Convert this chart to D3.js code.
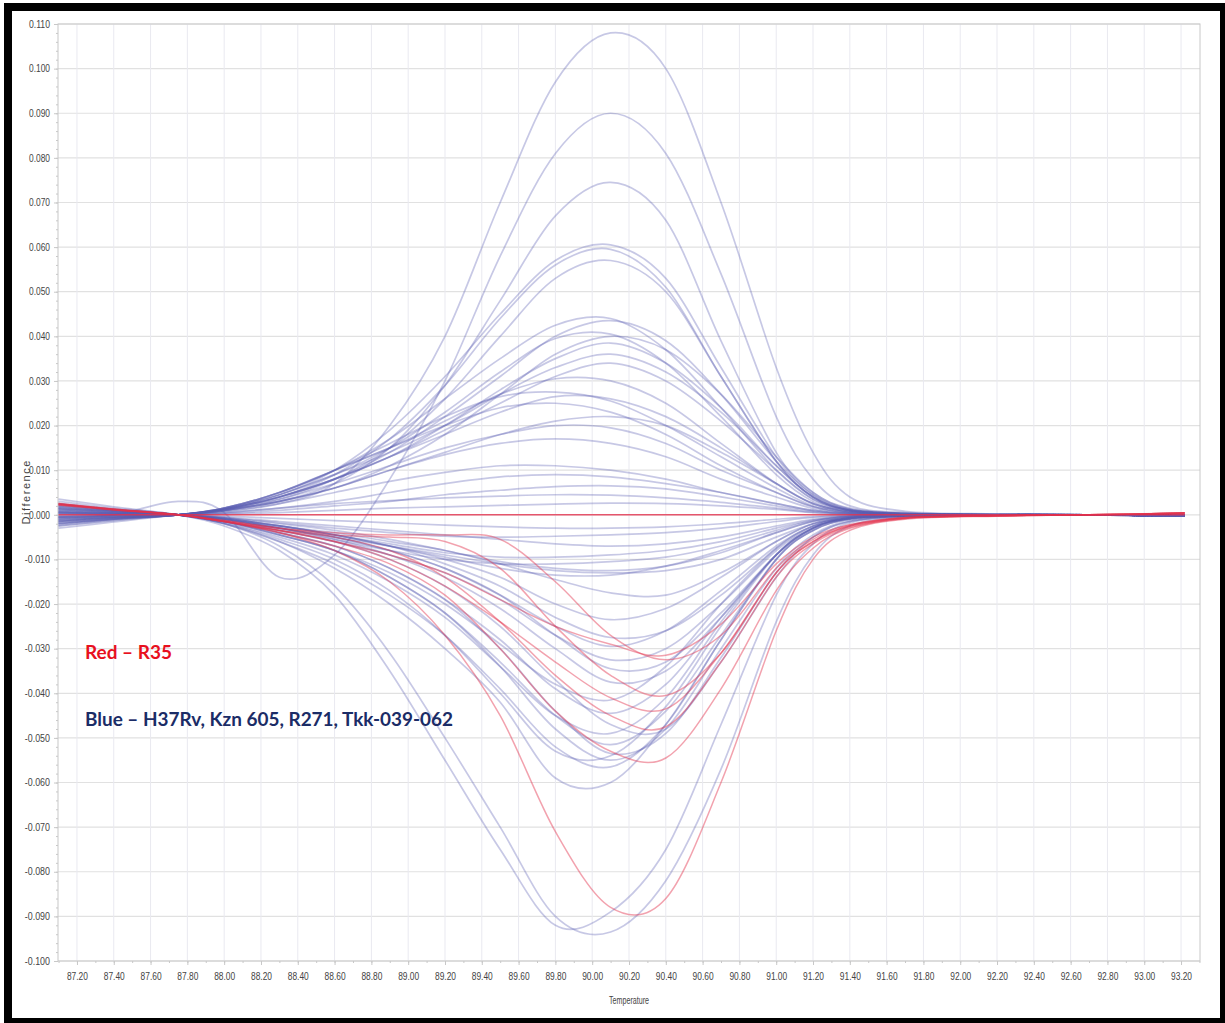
<!DOCTYPE html>
<html>
<head>
<meta charset="utf-8">
<script src="https://cdn.jsdelivr.net/npm/d3@7"></script>
<style>
body { margin: 0; background: #fff; }
</style>
</head>
<body>
<div id="chart-area"></div>
<script>
// temperature grid the curves were read on (deg C)
const temps = [87.10, 87.40, 87.75, 88.00, 88.30, 88.60, 88.90, 89.20, 89.50, 89.80,
               90.10, 90.40, 90.70, 91.00, 91.20, 91.40, 91.70, 92.20, 92.70, 93.22];

// difference values, in thousandths
const bluePositive = [
  [-3.0, -1.6, 0, 0.8, 2.5, 7, 20, 40, 70, 97, 108, 100, 70, 33, 14, 4, 0.8, 0.2, 0, -0.3],
  [-0.5, 0, 3.0, 0.5, -14, -9, 8, 30, 58, 81, 90, 81, 54, 22, 8, 2, 0.5, 0.1, 0, -0.3],
  [-2.5, -1.3, 0, 1, 3, 7, 15, 29, 48, 67, 74.5, 66, 39, 14, 5, 1.5, 0.3, 0.1, 0, -0.3],
  [-2.5, -1.2, 0, 1.5, 4.5, 10, 19, 31, 45, 57, 60.5, 53, 33, 13, 4.5, 1.2, 0.3, 0.1, 0, -0.3],
  [-2.2, -1.0, 0, 1.3, 4, 9, 17, 29, 44, 56, 59.5, 51, 31, 12, 4, 1, 0.3, 0.1, 0, -0.3],
  [-2.0, -1.0, 0, 1.2, 3.5, 8, 15, 26, 40, 53, 57, 50, 31, 12, 4, 1, 0.2, 0.1, 0, -0.3],
  [-2.0, -1.0, 0, 1.5, 5, 10, 17, 26, 35, 42.5, 44, 37, 24, 10, 3.5, 1, 0.2, 0, 0, -0.3],
  [-1.8, -0.9, 0, 1.2, 4, 8, 14, 22, 31, 40, 43.5, 39, 27, 12, 4.5, 1.2, 0.3, 0, 0, -0.3],
  [-1.8, -0.9, 0, 1.4, 4.5, 9, 15, 23, 32, 39.5, 40.5, 34, 22, 9, 3, 0.8, 0.2, 0, 0, -0.2],
  [-1.5, -0.8, 0, 1, 3, 6, 11, 18, 27, 36, 40, 37, 27, 13, 5, 1.3, 0.3, 0, 0, -0.2],
  [-1.5, -0.7, 0, 1.2, 4, 8, 13, 20, 28, 35, 38.5, 34, 24, 11, 4, 1, 0.2, 0, 0, -0.2],
  [-1.5, -0.7, 0, 1.3, 4.5, 9, 14, 20, 27, 33, 36, 32, 23, 11, 4, 1, 0.2, 0, 0, -0.2],
  [-1.3, -0.6, 0, 1.2, 4, 8, 13, 19, 25, 31, 34, 30, 21, 10, 3.5, 1, 0.2, 0, 0, -0.2],
  [-1.3, -0.6, 0, 1.5, 5, 10, 15, 21, 27, 30.5, 30, 25, 16, 7, 2.5, 0.7, 0.2, 0, 0, -0.2],
  [-1.2, -0.6, 0, 1.5, 5, 10, 16, 22, 26.5, 27.5, 25.5, 20, 13, 6, 2, 0.6, 0.1, 0, 0, -0.2],
  [-1.0, -0.5, 0, 1.2, 4, 8, 13, 18, 23, 26.5, 26, 22, 15, 7, 2.5, 0.7, 0.1, 0, 0, -0.2],
  [-1.0, -0.5, 0, 1.5, 5, 10, 15, 20, 24, 25, 23, 18, 11, 5, 1.8, 0.5, 0.1, 0, 0, -0.2],
  [-0.8, -0.4, 0, 1, 3, 6, 10, 14, 18, 21, 22, 20, 14, 7, 2.5, 0.7, 0.1, 0, 0, -0.1],
  [-0.8, -0.4, 0, 1, 3.5, 7, 11, 15, 18, 20, 19.5, 16, 10, 5, 1.8, 0.5, 0.1, 0, 0, -0.1],
  [-0.7, -0.3, 0, 1, 3, 6, 10, 13.5, 16, 17, 16, 13, 8, 4, 1.4, 0.4, 0.1, 0, 0, -0.1],
  [-0.5, -0.2, 0, 0.8, 2.5, 5, 7.5, 9.5, 11, 11, 10, 8, 5, 2.5, 1, 0.3, 0.1, 0, 0, -0.1],
  [-0.5, -0.2, 0, 0.5, 1.5, 3, 5, 7, 8.5, 9, 8.5, 7, 5, 2.5, 1, 0.3, 0.1, 0, 0, -0.1],
  [-0.4, -0.2, 0, 0.3, 1, 2, 3, 4.5, 5.5, 6.3, 6.5, 5.8, 4, 2, 0.8, 0.2, 0, 0, 0, -0.1],
  [-0.3, -0.1, 0, 0.5, 1.5, 2.5, 3.2, 3.8, 4.2, 4.5, 4.4, 3.8, 2.8, 1.5, 0.6, 0.2, 0, 0, 0, -0.1],
  [-0.2, -0.1, 0, 0.2, 0.5, 1, 1.5, 1.8, 2.1, 2.4, 2.6, 2.5, 2, 1.2, 0.5, 0.1, 0, 0, 0, -0.1]
];

const blueNegative = [
  [3.5, 1.8, 0, -2, -7, -16, -31, -50, -70, -90, -93.5, -82, -57, -24, -9, -2.5, -0.5, -0.1, 0, -0.3],
  [3.0, 1.5, 0, -2.5, -8, -18, -35, -55, -75, -92, -89, -75, -47, -18, -6.5, -1.8, -0.4, -0.1, 0, -0.3],
  [2.5, 1.2, 0, -2, -6, -12, -20, -30, -42, -59, -60, -47, -28, -10, -3.5, -1, -0.3, 0, 0, -0.3],
  [2.5, 1.2, 0, -2, -6, -11, -18, -27, -39, -52, -56.5, -47, -28, -10, -3.5, -1, -0.3, 0, 0, -0.3],
  [2.2, 1.1, 0, -1.8, -5.5, -10, -17, -27, -40, -53, -54, -43, -25, -9, -3, -0.8, -0.2, 0, 0, -0.3],
  [2.0, 1.0, 0, -1.5, -4.5, -8, -14, -22, -34, -48, -55, -48, -30, -12, -4.5, -1.3, -0.3, 0, 0, -0.3],
  [2.0, 1.0, 0, -1.5, -4, -7, -12, -19, -30, -44, -53.5, -49, -32, -13, -5, -1.5, -0.3, 0, 0, -0.3],
  [1.8, 0.9, 0, -1.5, -4.5, -8, -14, -22, -33, -45, -51.5, -44, -27, -10, -3.5, -1, -0.2, 0, 0, -0.3],
  [1.8, 0.9, 0, -1.8, -5, -9, -15, -23, -34, -45, -49, -41, -24, -9, -3, -0.8, -0.2, 0, 0, -0.3],
  [1.5, 0.8, 0, -1.2, -3.5, -6, -10, -16, -25, -37, -47, -48, -33, -14, -5, -1.5, -0.3, 0, 0, -0.3],
  [1.5, 0.8, 0, -1.5, -4, -7, -12, -19, -28, -39, -44.5, -38, -23, -9, -3, -0.8, -0.2, 0, 0, -0.3],
  [1.5, 0.8, 0, -1.5, -4.5, -8, -13, -20, -29, -38, -41.5, -34, -20, -7.5, -2.5, -0.7, -0.2, 0, 0, -0.3],
  [1.3, 0.7, 0, -1, -3, -5.5, -9, -14, -21, -30, -37.5, -35, -23, -9, -3, -0.8, -0.2, 0, 0, -0.3],
  [1.2, 0.6, 0, -1, -3, -5, -8, -12, -18, -27, -34.5, -33, -22, -9, -3, -0.8, -0.2, 0, 0, -0.3],
  [1.2, 0.6, 0, -1.2, -3.5, -6, -9, -13, -19, -27, -32.5, -30, -20, -8, -2.8, -0.8, -0.2, 0, 0, -0.3],
  [1.0, 0.5, 0, -1, -3, -5, -8, -12, -18, -25, -29.5, -26, -17, -7, -2.5, -0.7, -0.2, 0, 0, -0.2],
  [1.0, 0.5, 0, -1, -2.5, -4.5, -7, -11, -16, -23, -27.5, -26, -18, -7.5, -2.5, -0.7, -0.2, 0, 0, -0.2],
  [0.8, 0.4, 0, -0.8, -2.5, -4.5, -7, -10, -14, -20, -23.5, -21, -14, -6, -2, -0.6, -0.1, 0, 0, -0.2],
  [0.8, 0.4, 0, -0.8, -2.5, -4, -6, -8, -11, -14.5, -17.5, -18, -13, -6, -2, -0.6, -0.1, 0, 0, -0.2],
  [0.6, 0.3, 0, -0.8, -2.5, -4.5, -7, -9.5, -12, -13.5, -13.5, -11.5, -8, -4, -1.5, -0.4, -0.1, 0, 0, -0.2],
  [0.6, 0.3, 0, -1, -3, -5, -7, -9, -11, -12.5, -13, -12.5, -10, -5, -2, -0.5, -0.1, 0, 0, -0.2],
  [0.5, 0.3, 0, -0.7, -2, -3.5, -5.5, -8, -10.5, -12, -12.5, -11.5, -8.5, -4, -1.5, -0.4, -0.1, 0, 0, -0.2],
  [0.5, 0.2, 0, -1, -3, -5.5, -8, -10, -11, -11, -10.5, -9.5, -7, -3.5, -1.3, -0.4, -0.1, 0, 0, -0.2],
  [0.5, 0.2, 0, -0.8, -2.5, -4.5, -6.5, -8.5, -9.5, -9.5, -9, -8, -6, -3, -1.2, -0.3, -0.1, 0, 0, -0.2],
  [0.3, 0.2, 0, -0.5, -1.5, -2.5, -3.5, -4.5, -5.5, -6.5, -7, -6.5, -5, -2.5, -1, -0.3, 0, 0, 0, -0.2],
  [0.3, 0.1, 0, -0.6, -1.8, -3, -4, -4.8, -5, -4.8, -4.5, -4, -3, -1.5, -0.6, -0.2, 0, 0, 0, -0.2],
  [0.2, 0.1, 0, -0.3, -0.8, -1.3, -1.8, -2.3, -2.7, -3, -3, -2.7, -2, -1, -0.4, -0.1, 0, 0, 0, -0.2]
];

const redCurves = [
  [0, 0, 0, 0, 0, 0, 0, 0, 0, 0, 0, 0, 0, 0, 0, 0, 0, 0, 0, 0],
  [2.6, 1.3, 0, -1.5, -4, -8, -15, -27, -45, -71, -88, -86, -60, -26, -10, -3.5, -1, -0.3, 0, 0.4],
  [2.5, 1.3, 0, -1.5, -4, -7, -11, -18, -30, -44, -53, -54.5, -39, -17, -7.5, -3, -0.8, -0.2, 0, 0.4],
  [2.4, 1.2, 0, -1.5, -3.5, -5, -8, -14, -24, -36, -45, -47.5, -33, -14, -6.5, -2.8, -0.8, -0.2, 0, 0.4],
  [2.4, 1.2, 0, -1.5, -3.5, -6, -10, -16, -24, -33, -41, -43.5, -31, -13, -6, -2.5, -0.7, -0.2, 0, 0.4],
  [2.3, 1.2, 0, -1.3, -3, -4.5, -5, -6, -12, -25, -36, -40.5, -31, -13, -6, -2.5, -0.7, -0.2, 0, 0.4],
  [2.2, 1.1, 0, -1.3, -3, -4, -4.5, -4.5, -5.5, -15, -27, -32.5, -27, -12, -5.5, -2.3, -0.6, -0.2, 0, 0.4],
  [2.2, 1.1, 0, -1.5, -3.5, -6, -9, -13, -19, -25, -29, -31.5, -24.5, -11, -5, -2.2, -0.6, -0.2, 0, 0.4]
];

const xTicks = [87.2, 87.4, 87.6, 87.8, 88.0, 88.2, 88.4, 88.6, 88.8, 89.0, 89.2, 89.4, 89.6, 89.8,
                90.0, 90.2, 90.4, 90.6, 90.8, 91.0, 91.2, 91.4, 91.6, 91.8, 92.0, 92.2, 92.4, 92.6,
                92.8, 93.0, 93.2];
const yTicks = [-100, -90, -80, -70, -60, -50, -40, -30, -20, -10, 0, 10, 20, 30, 40, 50, 60, 70, 80, 90, 100, 110];

const legendItems = [
  {text: "Red \u2013 R35", color: "#e8101e", len: 87},
  {text: "Blue \u2013 H37Rv, Kzn 605, R271, Tkk-039-062", color: "#1b2c66", len: 368}
];

const width = 1225;
const height = 1023;
const plot = {left: 58, top: 24, right: 1200, bottom: 961};
const tickFont = '"Liberation Sans", Arial, sans-serif';

const svg = d3.select('#chart-area')
  .append('svg')
  .attr('width', width)
  .attr('height', height);

// black frame
svg.append('rect').attr('x', 4).attr('y', 3).attr('width', 1221).attr('height', 1020).attr('fill', '#000');
svg.append('rect').attr('x', 12).attr('y', 11).attr('width', 1208).attr('height', 1007).attr('fill', '#fff');

const x = d3.scaleLinear()
  .domain([87.097, 93.303])
  .range([plot.left, plot.right]);

const y = d3.scaleLinear()
  .domain([-100, 110])
  .range([plot.bottom, plot.top]);

// grid
svg.append('g')
  .selectAll('line')
  .data(yTicks)
  .enter().append('line')
  .attr('x1', plot.left).attr('x2', plot.right)
  .attr('y1', d => y(d)).attr('y2', d => y(d))
  .attr('stroke', '#e1e1e1')
  .attr('stroke-width', 1.2);

svg.append('g')
  .selectAll('line')
  .data(xTicks)
  .enter().append('line')
  .attr('x1', d => x(d)).attr('x2', d => x(d))
  .attr('y1', plot.top).attr('y2', plot.bottom)
  .attr('stroke', '#e9e9f0')
  .attr('stroke-width', 1);

// plot border
svg.append('rect')
  .attr('x', plot.left).attr('y', plot.top)
  .attr('width', plot.right - plot.left).attr('height', plot.bottom - plot.top)
  .attr('fill', 'none')
  .attr('stroke', '#c8c8c8')
  .attr('stroke-width', 1);

// axes
const yAxis = d3.axisLeft(y)
  .tickValues(yTicks)
  .tickSize(4)
  .tickPadding(4)
  .tickFormat(d => (d / 1000).toFixed(3));

const yMinor = d3.axisLeft(y)
  .tickValues(d3.range(-100, 111, 2))
  .tickSize(2)
  .tickFormat('');

const xAxis = d3.axisBottom(x)
  .tickValues(xTicks)
  .tickSize(4)
  .tickPadding(8)
  .tickFormat(d3.format('.2f'));

const xMinor = d3.axisBottom(x)
  .tickValues(d3.range(87.1, 93.31, 0.1))
  .tickSize(2)
  .tickFormat('');

[yMinor, yAxis].forEach(ax => {
  svg.append('g')
    .attr('transform', `translate(${plot.left},0)`)
    .call(ax)
    .call(g => g.select('.domain').remove());
});

[xMinor, xAxis].forEach(ax => {
  svg.append('g')
    .attr('transform', `translate(0,${plot.bottom})`)
    .call(ax)
    .call(g => g.select('.domain').remove());
});

svg.selectAll('.tick line').attr('stroke', '#c8c8c8');
// narrow tick labels, like the original condensed font
svg.selectAll('.tick text')
  .attr('fill', '#444')
  .attr('font-family', tickFont)
  .attr('font-size', '10px')
  .attr('textLength', function() { return this.textContent.length * 4.2; })
  .attr('lengthAdjust', 'spacingAndGlyphs');

svg.append('text')
  .text('Temperature')
  .attr('x', (plot.left + plot.right) / 2)
  .attr('y', 1004)
  .attr('text-anchor', 'middle')
  .attr('font-family', tickFont)
  .attr('font-size', '10px')
  .attr('textLength', 40)
  .attr('lengthAdjust', 'spacingAndGlyphs')
  .attr('fill', '#444');

svg.append('text')
  .text('Difference')
  .attr('transform', `translate(30,${(plot.top + plot.bottom) / 2}) rotate(-90)`)
  .attr('text-anchor', 'middle')
  .attr('font-family', tickFont)
  .attr('font-size', '11px')
  .attr('textLength', 64)
  .attr('lengthAdjust', 'spacing')
  .attr('fill', '#444');

// curves
const line = d3.line()
  .x((d, i) => x(temps[i]))
  .y(d => y(d))
  .curve(d3.curveCatmullRom.alpha(0));

const curves = svg.append('g');

curves.selectAll('path.blue')
  .data(bluePositive.concat(blueNegative))
  .enter().append('path')
  .attr('class', 'blue')
  .attr('d', line)
  .attr('fill', 'none')
  .attr('stroke', '#5a5eb2')
  .attr('stroke-opacity', 0.34)
  .attr('stroke-width', 1.7);

curves.selectAll('path.red')
  .data(redCurves)
  .enter().append('path')
  .attr('class', 'red')
  .attr('d', line)
  .attr('fill', 'none')
  .attr('stroke', '#e3304c')
  .attr('stroke-opacity', (d, i) => i === 0 ? 0.8 : 0.45)
  .attr('stroke-width', 1.5);

// legend text
svg.selectAll('text.legend')
  .data(legendItems)
  .enter().append('text')
  .attr('class', 'legend')
  .text(d => d.text)
  .attr('x', 85)
  .attr('y', (d, i) => i === 0 ? 659 : 726)
  .attr('fill', d => d.color)
  .attr('font-family', 'Lato, "Open Sans", sans-serif')
  .attr('font-weight', 'bold')
  .attr('font-size', '19px')
  .attr('textLength', d => d.len)
  .attr('lengthAdjust', 'spacingAndGlyphs');
</script>
</body>
</html>
